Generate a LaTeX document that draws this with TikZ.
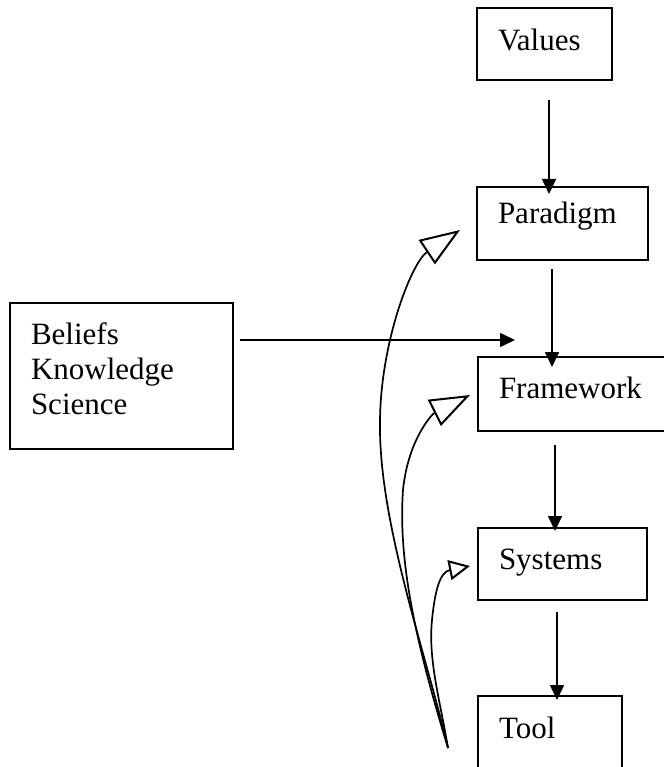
\documentclass[tikz,border=0pt]{standalone}
\usepackage{fontspec}
\setmainfont{Liberation Serif}
\usetikzlibrary{arrows.meta,calc}
\begin{document}
\begin{tikzpicture}[x=1pt,y=-1pt,
  box/.style={draw,line width=2pt,rectangle,anchor=north west,inner xsep=21pt,inner ysep=0pt,
    align=left,font=\fontsize{31}{35}\selectfont},
  arr/.style={line width=1.6pt,-{Triangle[length=15pt,width=14pt]}},
  bigopen/.style={line width=1.7pt,-{Triangle[open,length=40pt,width=29pt,line width=2pt]}},
  smallopen/.style={line width=1.7pt,-{Triangle[open,length=21pt,width=20pt,line width=2pt]}}]
\fill[white] (0,0) rectangle (663,767);
\useasboundingbox (0,0) rectangle (663,767);

\node[box,text width=93pt,text height=43pt,text depth=29pt] (v) at (476,7) {Values};
\node[box,text width=129pt,text height=36pt,text depth=37pt] (p) at (476,186) {Paradigm};
\node[box,text width=181pt,text height=41pt,text depth=33pt] (f) at (477,356) {Framework};
\node[box,text width=127pt,text height=41pt,text depth=31pt] (s) at (477,527) {Systems};
\node[box,text width=102pt,text height=42pt,text depth=70pt] (t) at (477,695) {Tool};
\node[box,text width=181pt,text height=41pt,text depth=105pt] (b) at (9,302) {Beliefs\\Knowledge\\Science};

\coordinate (q) at (448,748);

\draw[arr] ($(v.south west)+(73,19)$) -- ($(p.north west)+(73,8)$);
\draw[arr] ($(p.south west)+(76,8)$) -- ($(f.north west)+(75,11)$);
\draw[arr] ($(f.south west)+(78,13)$) -- ($(s.north west)+(78,4)$);
\draw[arr] ($(s.south west)+(80,11)$) -- ($(t.north west)+(80,5)$);
\draw[arr] ($(b.north east)+(6,38)$) -- ($(f.north west)+(38,-16)$);

\draw[bigopen] (q) .. controls (425,650) and (378,520) .. (380,420)
  .. controls (381,340) and (412,262) .. ($(p.west)+(-16,6.5)$);
\draw[bigopen] (q) .. controls (415,640) and (398,560) .. (403,490)
  .. controls (408,440) and (432,414) .. ($(f.west)+(-7,1)$);
\draw[smallopen] (q) .. controls (440,700) and (428,660) .. (432,620)
  .. controls (435,590) and (440,572) .. ($(s.west)+(-7,2)$);
\end{tikzpicture}
\end{document}
